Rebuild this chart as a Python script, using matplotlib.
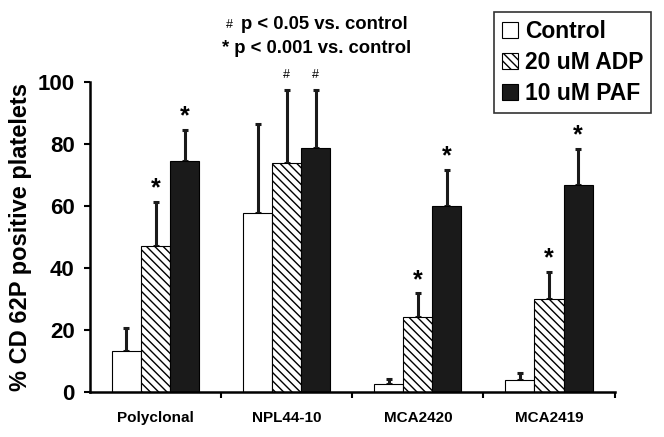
import numpy as np
import matplotlib.pyplot as plt

plt.rcParams['font.family'] = ['Liberation Sans', 'DejaVu Sans']
plt.rcParams['font.weight'] = 'bold'
plt.rcParams['hatch.linewidth'] = 1.0

groups = ["Polyclonal", "NPL44-10", "MCA2420", "MCA2419"]
series = ["Control", "20 uM ADP", "10 uM PAF"]
control = [13.3, 57.8, 2.6, 3.9]
control_err = [7.4, 28.7, 1.7, 2.1]
adp = [47.1, 74.0, 24.3, 30.1]
adp_err = [14.2, 23.5, 7.5, 8.7]
paf = [74.4, 78.8, 60.0, 66.8]
paf_err = [10.1, 18.7, 11.8, 11.6]
# significance marks per bar ("" = none)
control_sig = ["", "", "", ""]
adp_sig = ["*", "#", "*", "*"]
paf_sig = ["*", "#", "*", "*"]

fig = plt.figure(figsize=(6.64, 4.37), dpi=100)
ax = fig.add_axes([0.1355, 0.103, 0.79, 0.709])

x = np.arange(len(groups))
w = 0.222
styles = [
    dict(facecolor="white", hatch=None),
    dict(facecolor="white", hatch="\\\\\\\\"),
    dict(facecolor="#1a1a1a", hatch=None),
]
vals = [control, adp, paf]
errs = [control_err, adp_err, paf_err]
sigs = [control_sig, adp_sig, paf_sig]

for i in range(3):
    pos = x + (i - 1) * w
    ax.bar(pos, vals[i], w, edgecolor="black", linewidth=0.8,
           label=series[i], zorder=2, **styles[i])
    ax.errorbar(pos, vals[i], yerr=[np.zeros(4), errs[i]], fmt="none",
                ecolor="#1a1a1a", elinewidth=2.2, capsize=2, capthick=2.2,
                zorder=1)
    for p, v, e, s in zip(pos, vals[i], errs[i], sigs[i]):
        if s == "*":
            ax.text(p, v + e + 0.5, "*", ha="center", va="bottom",
                    fontsize=18, fontweight="bold", clip_on=False)
        elif s == "#":
            ax.text(p, v + e + 3, "#", ha="center", va="bottom",
                    fontsize=9, fontweight="normal", clip_on=False)

ax.set_xlim(-0.5, 3.5)
ax.set_ylim(0, 100)
ax.set_yticks([0, 20, 40, 60, 80, 100])
ax.tick_params(axis="y", labelsize=16, direction="out", length=4, width=1.5,
               pad=7)
ax.set_xticks(x)
ax.set_xticklabels(groups, fontsize=11, fontweight="bold")
ax.tick_params(axis="x", length=0, pad=14)
ax.set_xticks([0.5, 1.5, 2.5, 3.5], minor=True)
ax.tick_params(axis="x", which="minor", length=4, width=1.5, direction="out")
for side in ["top", "right"]:
    ax.spines[side].set_visible(False)
for side in ["left", "bottom"]:
    ax.spines[side].set_linewidth(1.8)
ax.set_ylabel("% CD 62P positive platelets", fontsize=17, fontweight="bold",
              labelpad=4)

fig.text(0.488, 0.945, "p < 0.05 vs. control", ha="center", va="center",
         fontsize=13.3, fontweight="bold")
fig.text(0.345, 0.943, "#", ha="center", va="center", fontsize=9,
         fontweight="normal")
fig.text(0.477, 0.890, "* p < 0.001 vs. control", ha="center", va="center",
         fontsize=13.3, fontweight="bold")

leg = ax.legend(loc="upper right", bbox_to_anchor=(0.981, 0.972),
                bbox_transform=fig.transFigure, fontsize=16.5, frameon=True,
                fancybox=False, edgecolor="black", handlelength=0.7,
                handleheight=0.7, handletextpad=0.3, labelspacing=0.35,
                borderpad=0.35, borderaxespad=0)
leg.get_frame().set_linewidth(1.2)

fig.savefig("out.png", dpi=100, facecolor="white")
